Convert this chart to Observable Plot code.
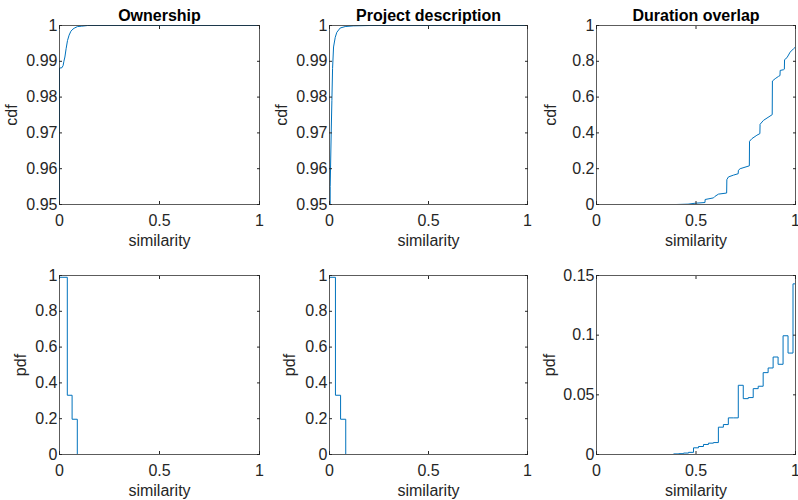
<!DOCTYPE html>
<html><head><meta charset="utf-8">
<script src="https://cdn.jsdelivr.net/npm/d3@7"></script>
<script src="https://cdn.jsdelivr.net/npm/@observablehq/plot@0.6"></script>
<style>
body{margin:0;background:#fff;}
#chart{position:relative;width:798px;height:500px;font-family:"Liberation Sans",Arial,Helvetica,sans-serif;}
#chart svg{position:absolute;}
</style></head><body><div id="chart"></div>
<script>
const titles = ["Ownership", "Project description", "Duration overlap"];
const xLabel = "similarity";
const yLabels = ["cdf", "pdf"];
const xTicks = [0, 0.5, 1];
const cdfTicksNarrow = [0.95, 0.96, 0.97, 0.98, 0.99, 1];
const unitTicks = [0, 0.2, 0.4, 0.6, 0.8, 1];
const durPdfTicks = [0, 0.05, 0.1, 0.15];

// Ownership cdf
const ownCdfX = [0, 0, 0.012, 0.018, 0.022, 0.027, 0.033, 0.04, 0.048, 0.057, 0.067, 0.077, 0.09, 0.11, 0.14, 1];
const ownCdfY = [0, 0.9881, 0.9882, 0.9888, 0.9900, 0.9912, 0.9935, 0.9958, 0.9973, 0.9984, 0.9990, 0.99935, 0.9997, 0.9998, 1, 1];
// Project description cdf
const projCdfX = [0.002, 0.0035, 0.0086, 0.012, 0.0155, 0.0205, 0.029, 0.037, 0.054, 0.079, 0.12, 0.2, 1];
const projCdfY = [0.9, 0.955, 0.970, 0.979, 0.988, 0.994, 0.9967, 0.9981, 0.9993, 0.9997, 0.9999, 1, 1];
// Duration overlap cdf
const durCdfX = [0, 0.40, 0.46, 0.495, 0.545, 0.546, 0.588, 0.596, 0.613, 0.654, 0.655, 0.663, 0.688, 0.712, 0.713, 0.722, 0.768, 0.769, 0.781, 0.806, 0.821, 0.822, 0.839, 0.883, 0.884, 0.898, 0.915, 0.922, 0.923, 0.94, 0.944, 0.945, 0.957, 0.973, 0.99, 1, 1];
const durCdfY = [0, 0, 0.002, 0.007, 0.011, 0.028, 0.037, 0.046, 0.058, 0.064, 0.139, 0.154, 0.164, 0.172, 0.191, 0.2, 0.216, 0.353, 0.368, 0.387, 0.396, 0.448, 0.47, 0.502, 0.69, 0.703, 0.716, 0.72, 0.749, 0.753, 0.756, 0.809, 0.82, 0.851, 0.87, 0.88, 1];

// pdf histograms: bin edges and bin values
const ownPdfEdges = [0, 0.039, 0.063, 0.089, 1];
const ownPdfValues = [0.99, 0.331, 0.197, 0];
const projPdfEdges = [0, 0.030, 0.056, 0.082, 1];
const projPdfValues = [0.99, 0.331, 0.197, 0];
const durPdfEdges = [0, 0.3875, 0.4125, 0.4375, 0.4625, 0.4875, 0.5125, 0.5375, 0.5625, 0.5875, 0.6125, 0.6375, 0.6625, 0.6875, 0.7125, 0.7375, 0.7625, 0.7875, 0.8125, 0.8375, 0.8625, 0.8875, 0.9125, 0.9375, 0.9625, 0.9875, 1];
const durPdfValues = [0, 0.0005, 0.0007, 0.0012, 0.0018, 0.0056, 0.0067, 0.0084, 0.0095, 0.0100, 0.0229, 0.0251, 0.0307, 0.0307, 0.0580, 0.0468, 0.0477, 0.0552, 0.0572, 0.0686, 0.0725, 0.0817, 0.0756, 0.0995, 0.0850, 0.1430];

const zipXY = (xs, ys) => xs.map((x, i) => ({x, y: ys[i]}));
const stairs = (edges, vals) => edges.map((e, i) => ({x: e, y: vals[Math.min(i, vals.length - 1)]}));

const frameL = [59, 329, 596], frameR = [259, 527, 795];
const frameT = [25, 275], frameB = [204, 454];
const ML = 58, MR = 3, MT = 25, MB = 45;

const panels = [
  {r: 0, c: 0, data: zipXY(ownCdfX, ownCdfY), curve: "linear", yDomain: [0.95, 1], yTicks: cdfTicksNarrow, yLabelOffset: 54},
  {r: 0, c: 1, data: zipXY(projCdfX, projCdfY), curve: "linear", yDomain: [0.95, 1], yTicks: cdfTicksNarrow, yLabelOffset: 54},
  {r: 0, c: 2, data: zipXY(durCdfX, durCdfY), curve: "linear", yDomain: [0, 1], yTicks: unitTicks, yLabelOffset: 52},
  {r: 1, c: 0, data: stairs(ownPdfEdges, ownPdfValues), curve: "step-after", yDomain: [0, 1], yTicks: unitTicks, yLabelOffset: 45},
  {r: 1, c: 1, data: stairs(projPdfEdges, projPdfValues), curve: "step-after", yDomain: [0, 1], yTicks: unitTicks, yLabelOffset: 46},
  {r: 1, c: 2, data: stairs(durPdfEdges, durPdfValues), curve: "step-after", yDomain: [0, 0.15], yTicks: durPdfTicks, yLabelOffset: 53}
];

const ink = "#262626";
const fmt = d => String(d);
const root = document.getElementById("chart");

for (const p of panels) {
  const w = frameR[p.c] - frameL[p.c] + ML + MR;
  const h = frameB[p.r] - frameT[p.r] + MT + MB;
  const marks = [
    Plot.line(p.data, {x: "x", y: "y", stroke: "#0072BD", strokeWidth: 1, curve: p.curve, clip: true}),
    Plot.frame({stroke: ink, strokeOpacity: 0.75}),
    Plot.axisX({ticks: xTicks, tickFormat: fmt, tickSize: -3, tickPadding: 13.5, stroke: ink, fill: ink, fontSize: 16,
      label: xLabel, labelAnchor: "center", labelOffset: 41, labelArrow: "none"}),
    Plot.axisX({anchor: "top", ticks: xTicks, tickSize: -3, stroke: ink, fill: "none", label: null}),
    Plot.axisY({ticks: p.yTicks, tickFormat: fmt, tickSize: -3, tickPadding: 5, stroke: ink, fill: ink, fontSize: 16,
      label: yLabels[p.r], labelAnchor: "center", labelOffset: p.yLabelOffset, labelArrow: "none"}),
    Plot.axisY({anchor: "right", ticks: p.yTicks, tickSize: -3, stroke: ink, fill: "none", label: null})
  ];
  if (p.r === 0) {
    marks.push(Plot.text([titles[p.c]], {frameAnchor: "top", lineAnchor: "bottom", dy: -5, fontWeight: "bold", fontSize: 16, fill: "#000"}));
  }
  const svg = Plot.plot({
    width: w, height: h,
    marginLeft: ML, marginRight: MR, marginTop: MT, marginBottom: MB,
    x: {domain: [0, 1]},
    y: {domain: p.yDomain},
    style: {fontFamily: '"Liberation Sans", Arial, Helvetica, sans-serif', fontSize: "16px", color: ink, background: "transparent", overflow: "visible"},
    marks
  });
  svg.style.left = (frameL[p.c] - ML) + "px";
  svg.style.top = (frameT[p.r] - MT) + "px";
  root.appendChild(svg);
}
</script></body></html>
